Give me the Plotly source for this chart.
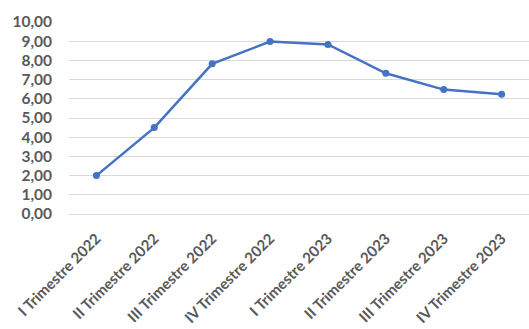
import plotly.graph_objects as go

categories = ["I Trimestre 2022", "II Trimestre 2022", "III Trimestre 2022", "IV Trimestre 2022",
              "I Trimestre 2023", "II Trimestre 2023", "III Trimestre 2023", "IV Trimestre 2023"]
values = [2.0, 4.5, 7.82, 8.98, 8.83, 7.33, 6.48, 6.24]
y_ticks = [0, 1, 2, 3, 4, 5, 6, 7, 8, 9, 10]
y_tick_labels = ["0,00", "1,00", "2,00", "3,00", "4,00", "5,00", "6,00", "7,00", "8,00", "9,00", "10,00"]

fig = go.Figure(go.Scatter(
    x=categories, y=values, mode="lines+markers",
    line=dict(color="#4472C4", width=2.5),
    marker=dict(color="#4472C4", size=7),
))

fig.update_layout(
    width=529, height=329,
    margin=dict(l=69, r=0, t=22, b=115),
    paper_bgcolor="white", plot_bgcolor="white",
    showlegend=False,
    font=dict(family="Lato, Open Sans, sans-serif", color="#595959"),
)
fig.update_xaxes(
    tickangle=-45, tickfont=dict(size=15, family="Lato", weight="bold", color="#595959"),
    showgrid=False, showline=False, ticks="", ticklabelstandoff=12,
)
fig.update_yaxes(
    range=[0, 10], tickvals=y_ticks, ticktext=y_tick_labels,
    tickfont=dict(size=15.5, family="Lato", weight="bold", color="#595959"),
    showgrid=True, gridcolor="#D9D9D9", gridwidth=1,
    zeroline=True, zerolinecolor="#D9D9D9", zerolinewidth=1,
    showline=False, ticks="", ticklabelstandoff=16,
)

fig.write_html("out.html")
